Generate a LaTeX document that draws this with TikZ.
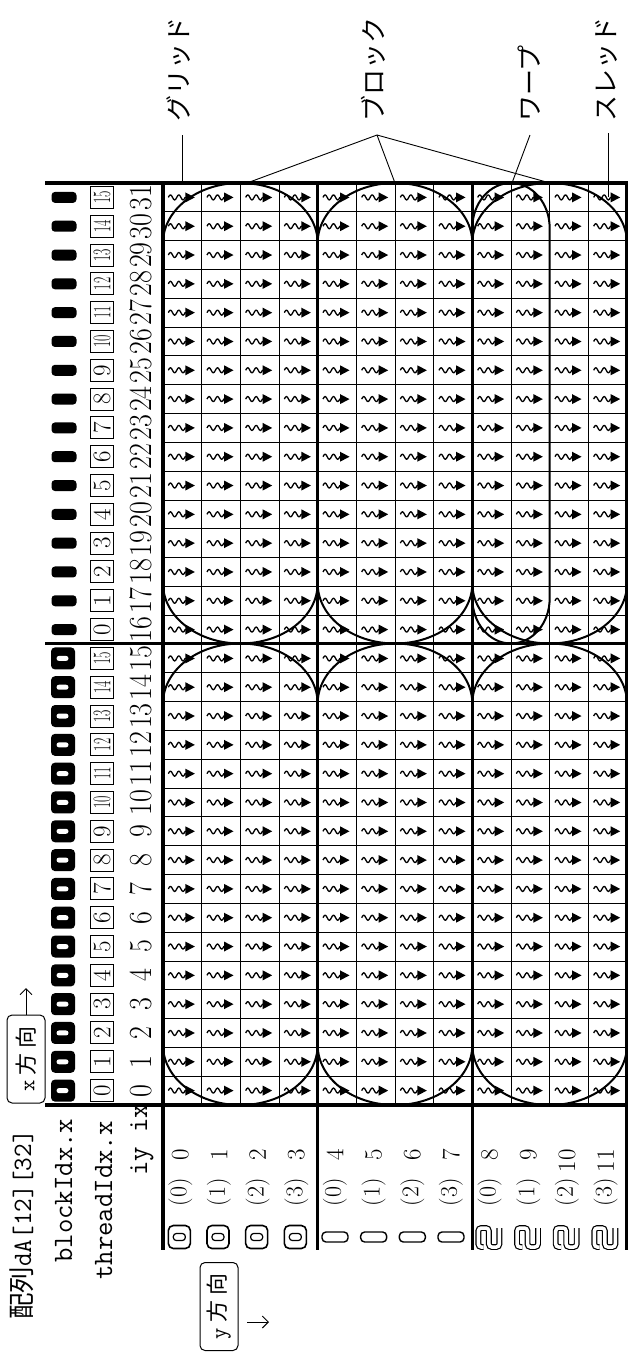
\documentclass[tikz,border=0pt]{standalone}
\usepackage{fontspec}
\usepackage{graphicx}
\newfontfamily\jp{Noto Sans CJK JP}
\usetikzlibrary{arrows.meta}
\begin{document}
\begin{tikzpicture}[x=1pt,y=1pt,
  gridthin/.style={line width=0.8pt},
  gridthick/.style={line width=3.2pt},
  stadium/.style={line width=2pt},
  leader/.style={line width=0.9pt},
  rot/.style={rotate=90, inner sep=0pt},
  tbox/.style={rot, draw, line width=1pt, minimum width=22pt, minimum height=23pt, font=\fontsize{25}{25}\selectfont},
  ixnum/.style={rot, font=\fontsize{28}{28}\selectfont},
  iynum/.style={rot, anchor=east, font=\fontsize{25}{25}\selectfont},
  tynum/.style={rot, anchor=east, font=\fontsize{24}{24}\selectfont},
  jplabel/.style={rot, anchor=west, font=\jp\fontsize{26}{26}\selectfont},
  hdr/.style={rot, anchor=base west, font=\ttfamily\fontsize{28}{28}\selectfont},
  dirbox/.style={rot, draw, line width=1pt, rounded corners=5pt, minimum width=88pt, minimum height=38pt, font=\fontsize{22}{22}\selectfont},
  bzero/.style={fill=black, rounded corners=4pt, minimum width=24pt, minimum height=22pt, inner sep=0pt},
  bslot/.style={fill=white, rounded corners=2.5pt, minimum width=12pt, minimum height=5pt, inner sep=0pt},
  bone/.style={fill=black, rounded corners=3.5pt, minimum width=25pt, minimum height=11pt, inner sep=0pt},
  yzero/.style={draw, line width=1.6pt, rounded corners=5pt, minimum width=22pt, minimum height=23pt, inner sep=0pt},
  yslot/.style={draw, line width=1.2pt, rounded corners=3pt, minimum width=12pt, minimum height=7pt, inner sep=0pt},
  yone/.style={draw, line width=1.4pt, rounded corners=4pt, minimum width=26pt, minimum height=10pt, inner sep=0pt},
  ytwo/.style={line width=1.2pt, double=white, double distance=3.5pt, rounded corners=3pt},
  dirarrow/.style={line width=1pt, -{Straight Barb[length=6pt,width=12pt]}},
  thr/.pic={
    \draw[line width=1.3pt, line join=round]
      (-14,0) sin (-11.9,2.6) cos (-9.8,0) sin (-7.7,-2.6) cos (-5.6,0)
      sin (-3.5,2.6) cos (-1.4,0) sin (0.7,-2.6) cos (2.8,0) -- (4,0);
    \fill (3,5) -- (12.5,0) -- (3,-5) -- cycle;
  }
]
\useasboundingbox (0,0) rectangle (628,-1358);

% thin grid lines
\foreach \j in {1,...,11}
  \draw[gridthin] ({163+\j*38.6667},-183) -- ({163+\j*38.6667},-1105);
\foreach \k in {1,...,31}
  \draw[gridthin] (163,{-183-\k*28.8125}) -- (627,{-183-\k*28.8125});

% thread arrows
\foreach \j in {0,...,11}{
  \foreach \k in {0,...,31}{
    \pic at ({163+(\j+0.5)*38.6667},{-1105+(\k+0.5)*28.8125}) {thr};
  }
}

% thick lines
\foreach \xx in {163,317.667,472.333,627}
  \draw[gridthick] (\xx,-183) -- (\xx,-1250);
\foreach \yy in {183,643.5,1105}
  \draw[gridthick] (45,-\yy) -- (628,-\yy);

% block outlines
\foreach \c in {0,1,2}{
  \foreach \yt/\yb in {183/643.5,643.5/1105}{
    \pgfmathsetmacro\xa{163+\c*154.6667}
    \pgfmathsetmacro\xb{\xa+154.6667}
    \draw[stadium] (\xa,{-\yt-60}) arc[start angle=180,end angle=0,x radius=77.333,y radius=60]
      -- (\xb,{-\yb+60}) arc[start angle=0,end angle=-180,x radius=77.333,y radius=60] -- cycle;
  }
}
% warp outline
\draw[stadium] (472.333,-228) arc[start angle=180,end angle=0,x radius=38.667,y radius=45]
  -- (549.667,-598.5) arc[start angle=0,end angle=-180,x radius=38.667,y radius=45] -- cycle;

% header columns (blockIdx.x, threadIdx.x, ix)
\foreach \k in {0,...,31}{
  \pgfmathsetmacro\yc{-1105+(\k+0.5)*28.8125}
  \pgfmathtruncatemacro\tv{mod(\k,16)}
  \ifnum\k<16
    \node[bzero] (bm\k) at (63,\yc) {};
    \node[bslot] (bs\k) at (62.5,\yc) {};
  \else
    \node[bone] (bm\k) at (64,\yc) {};
  \fi
  \node[tbox] (tb\k) at (102,\yc) {\ifnum\tv>9 \scalebox{0.55}[1]{\tv}\else\tv\fi};
  \node[ixnum] (ix\k) at (141,\yc) {\scalebox{1}[1.15]{\k}};
}

% row labels (iy, threadIdx.y, blockIdx.y)
\foreach \j in {0,...,11}{
  \pgfmathsetmacro\xc{163+(\j+0.5)*38.6667}
  \pgfmathtruncatemacro\ty{mod(\j,4)}
  \pgfmathtruncatemacro\by{int(\j/4)}
  \node[iynum] (iy\j) at (\xc-2,-1149) {\j};
  \node[tynum] (ty\j) at (\xc-2,-1178) {(\ty)};
  \ifnum\by=0
    \node[yzero] (yb\j) at (\xc-3,-1237) {};
    \node[yslot] (ys\j) at (\xc-3,-1237) {};
  \else\ifnum\by=1
    \node[yone] (yb\j) at (\xc-2,-1237) {};
  \else
    \draw[ytwo] (\xc-8,-1247) -- (\xc-13.3,-1247) -- (\xc-13.3,-1228) -- (\xc-2.8,-1228)
      -- (\xc-2.8,-1247) -- (\xc+7.7,-1247) -- (\xc+7.7,-1228);
  \fi\fi
}

% header texts
\node[hdr, font=\ttfamily\fontsize{26.5}{26.5}\selectfont] (hdA) at (31,-1320) {{\jp 配列}dA[12][32]};
\node[hdr] (hbx) at (72,-1263) {blockIdx.x};
\node[hdr] (htx) at (112,-1280) {threadIdx.x};
\node[hdr] (hix) at (147,-1176) {iy ix};

% direction boxes
\node[dirbox] (xdir) at (26,-1059) {{\ttfamily x}\hspace{5pt}{\jp 方}\hspace{5pt}{\jp 向}};
\coordinate (xtip) at (26,-988);
\draw[dirarrow] (xdir.east) -- (xtip);
\node[dirbox] (ydir) at (219,-1306.5) {{\ttfamily y}\hspace{5pt}{\jp 方}\hspace{5pt}{\jp 向}};
\coordinate (ytail) at (247,-1322);
\coordinate (ytip) at (269,-1322);
\draw[dirarrow] (ytail) -- (ytip);

% labels with leaders
\node[jplabel] (lgrid) at (179,-122) {グリッド};
\node[jplabel] (lblock) at (373,-122) {ブロック};
\node[jplabel] (lwarp) at (529,-122) {ワープ};
\node[jplabel] (lthread) at (606,-122) {スレッド};
\coordinate (fgrid) at (182,-135);
\coordinate (fblock) at (377,-135);
\coordinate (fwarp) at (530,-135);
\coordinate (fthread) at (608,-133);
\coordinate (egrid) at (182,-183);
\coordinate (eblockA) at (247,-183);
\coordinate (eblockB) at (395,-183);
\coordinate (eblockC) at (550,-183);
\coordinate (ewarp) at (512,-183);
\coordinate (ethread) at (608,-197);
\draw[leader] (fgrid) -- (egrid);
\draw[leader] (fblock) -- (eblockA);
\draw[leader] (fblock) -- (eblockB);
\draw[leader] (fblock) -- (eblockC);
\draw[leader] (fwarp) -- (ewarp);
\draw[leader] (fthread) -- (ethread);
\end{tikzpicture}
\end{document}
